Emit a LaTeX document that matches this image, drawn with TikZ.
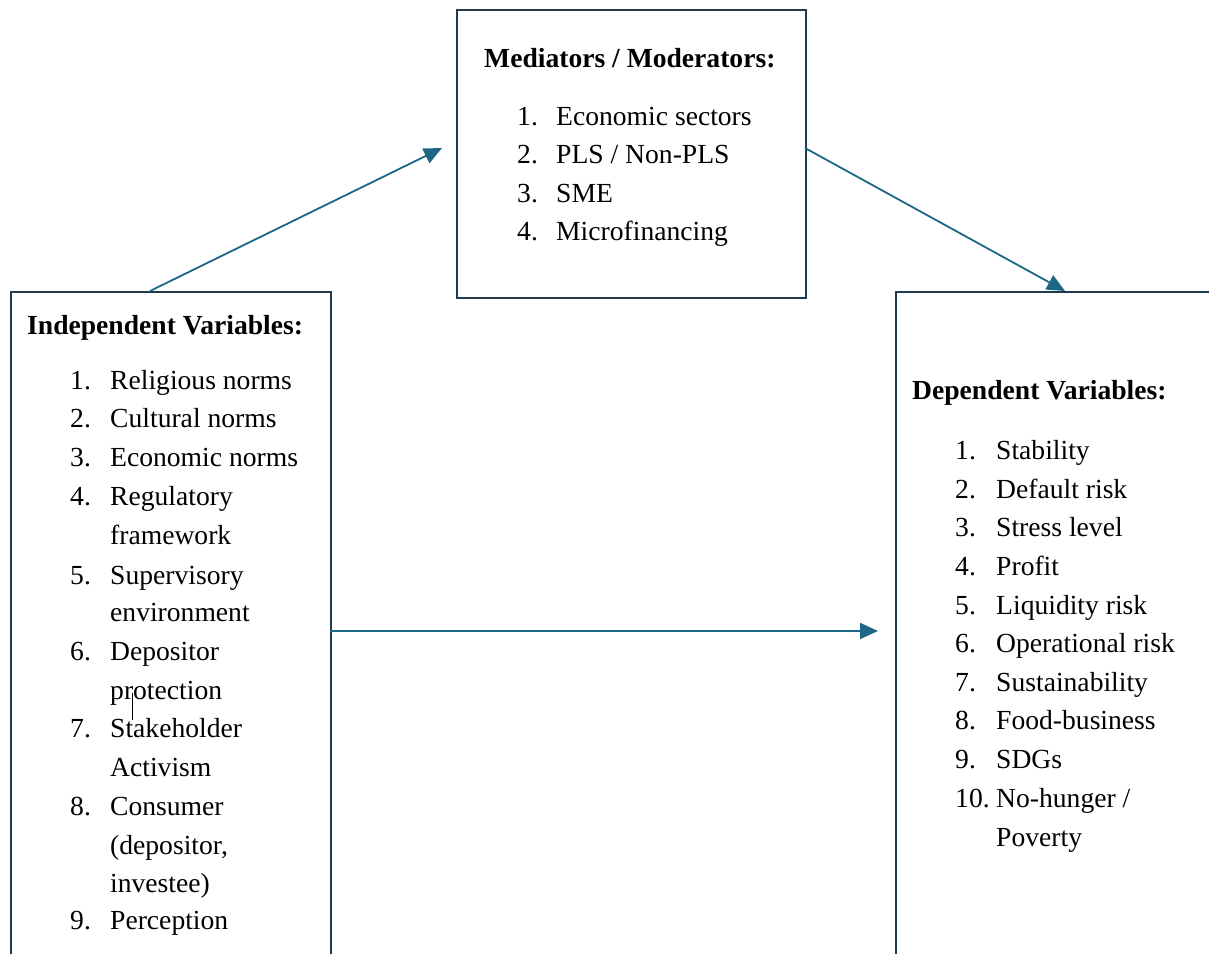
\documentclass[tikz,border=0pt]{standalone}
\usepackage{fontspec}
\setmainfont{Liberation Serif}
\usetikzlibrary{arrows.meta}
\definecolor{boxc}{HTML}{1F3B4D}
\definecolor{arrc}{HTML}{1E6687}
\begin{document}
\begin{tikzpicture}[x=1pt,y=-1pt,
  txt/.style={anchor=base west, inner sep=0pt, font=\fontsize{27.6}{30}\selectfont},
  ttl/.style={anchor=base west, inner sep=0pt, font=\fontsize{27.6}{30}\selectfont\bfseries},
  box/.style={draw=boxc, line width=1.5pt, inner sep=0pt, anchor=north west},
  arr/.style={draw=arrc, line width=1.8pt, -{Triangle[length=18pt,width=16pt]}}]
\useasboundingbox (0,0) rectangle (1209,953);
\clip (0,0) rectangle (1209,953);
% boxes
\node[box, minimum width=320pt, minimum height=700pt] (L) at (10,291) {};
\node[box, minimum width=349pt, minimum height=288pt] (M) at (456,9) {};
\node[box, minimum width=330pt, minimum height=700pt] (R) at (895,291) {};
% middle box
\node[ttl] (mt) at (484,67) {Mediators / Moderators:};
\foreach \n/\t/\y [count=\i] in {1./{Economic sectors}/125, 2./{PLS / Non-PLS}/163, 3./{SME}/202, 4./{Microfinancing}/240}{
  \node[txt] (mn\i) at (517,\y) {\n};
  \node[txt] (mi\i) at (556,\y) {\t};
}
% left box
\node[ttl] (lt) at (27,334) {Independent Variables:};
\foreach \n/\t/\y [count=\i] in {1./{Religious norms}/389, 2./{Cultural norms}/427, 3./{Economic norms}/466, 4./{Regulatory}/505, {}/{framework}/544, 5./{Supervisory}/584, {}/{environment}/621, 6./{Depositor}/660, {}/{protection}/699, 7./{Stakeholder}/737, {}/{Activism}/776, 8./{Consumer}/815, {}/{(depositor,}/854, {}/{investee)}/892, 9./{Perception}/929}{
  \node[txt] (ln\i) at (70,\y) {\n};
  \node[txt] (li\i) at (110,\y) {\t};
}
\draw[black, line width=0.8pt] (132,693) -- (132,720);
% right box
\node[ttl] (rt) at (912,399) {Dependent Variables:};
\foreach \n/\t/\y [count=\i] in {1./{Stability}/459, 2./{Default risk}/498, 3./{Stress level}/536, 4./{Profit}/575, 5./{Liquidity risk}/614, 6./{Operational risk}/652, 7./{Sustainability}/691, 8./{Food-business}/729, 9./{SDGs}/768, 10./{No-hunger /}/807, {}/{Poverty}/846}{
  \node[txt] (rn\i) at (955,\y) {\n};
  \node[txt] (ri\i) at (996,\y) {\t};
}
% arrows
\coordinate (a1s) at (150,291);
\coordinate (a1e) at (442,148);
\coordinate (a2s) at (805,148);
\coordinate (a2e) at (1065,291);
\coordinate (a3s) at (330,631);
\coordinate (a3e) at (878,631);
\draw[arr] (a1s) -- (a1e);
\draw[arr] (a2s) -- (a2e);
\draw[arr] (a3s) -- (a3e);
\end{tikzpicture}
\end{document}
